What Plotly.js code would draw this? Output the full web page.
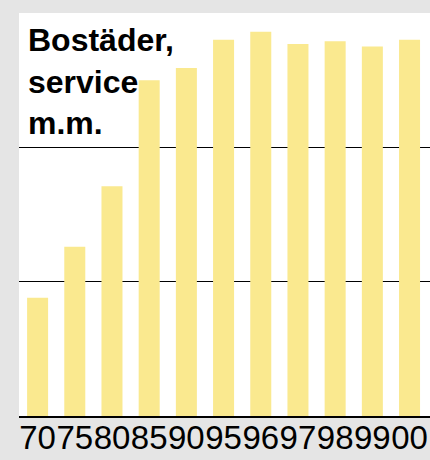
<!DOCTYPE html>
<html>
<head>
<meta charset="utf-8">
<script src="https://cdn.plot.ly/plotly-3.0.1.min.js"></script>
<style>html,body{margin:0;padding:0;background:#e5e5e5;}#chart{width:430px;height:460px;}</style>
</head>
<body>
<div id="chart"></div>
<script>
const years = ["70","75","80","85","90","95","96","97","98","99","00"];
const values = [0.88, 1.26, 1.71, 2.50, 2.59, 2.80, 2.86, 2.77, 2.79, 2.75, 2.80];
const titleText = "Bostäder,<br>service<br>m.m.";

const trace = {
  type: "bar",
  x: years.map((_, i) => i),
  y: values,
  marker: {color: "#fae98f", line: {width: 0}},
  width: 0.565,
  hoverinfo: "skip"
};

const layout = {
  width: 430,
  height: 460,
  paper_bgcolor: "#e5e5e5",
  plot_bgcolor: "#ffffff",
  margin: {l: 19, r: 0, t: 13, b: 43.5, pad: 0},
  showlegend: false,
  annotations: [{
    text: titleText,
    xref: "paper", yref: "paper",
    x: 0.018, y: 0.982,
    xanchor: "left", yanchor: "top",
    align: "left",
    showarrow: false,
    font: {family: "Liberation Sans, Arial, sans-serif", size: 32, color: "#000", weight: "bold"}
  }],
  xaxis: {
    range: [-0.5, 10.55],
    tickmode: "array",
    tickvals: years.map((_, i) => i),
    ticktext: years,
    tickangle: 0,
    ticks: "",
    ticklabelstandoff: -8,
    showgrid: false,
    zeroline: false,
    showline: true,
    linecolor: "#000",
    linewidth: 1.5,
    tickfont: {family: "Liberation Sans, Arial, sans-serif", size: 33, color: "#000"},
    fixedrange: true
  },
  yaxis: {
    range: [0, 3],
    tickvals: [1, 2],
    showticklabels: false,
    ticks: "",
    showgrid: true,
    gridcolor: "#000",
    gridwidth: 1.5,
    zeroline: false,
    showline: false,
    fixedrange: true
  }
};

Plotly.newPlot("chart", [trace], layout, {displayModeBar: false, staticPlot: true});
</script>
</body>
</html>
